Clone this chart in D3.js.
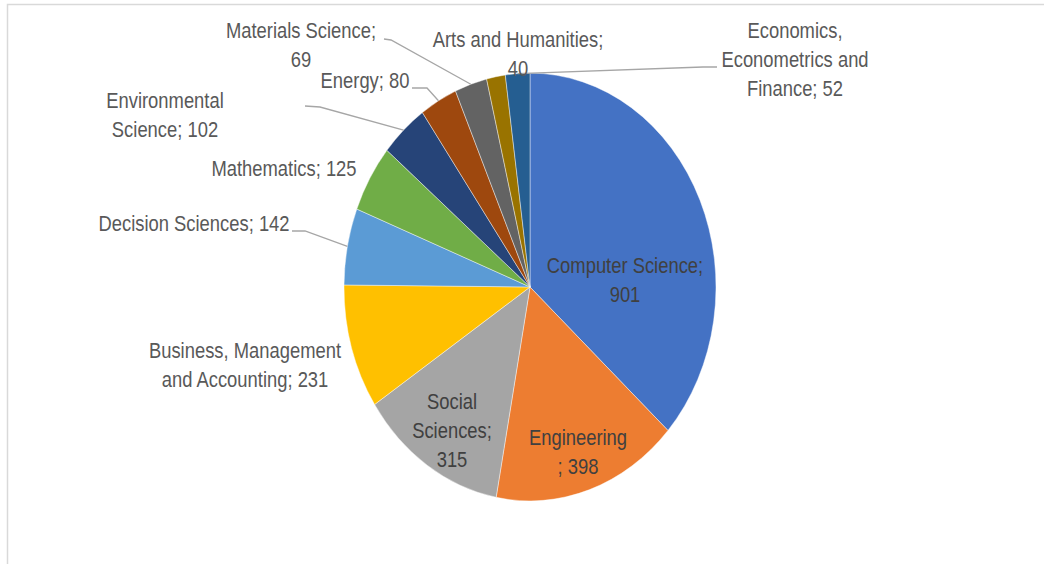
<!DOCTYPE html>
<html>
<head>
<meta charset="utf-8">
<script src="https://cdn.jsdelivr.net/npm/d3@7"></script>
<style>
  html, body { margin: 0; padding: 0; background: #fff; }
  svg { display: block; }
</style>
</head>
<body>
<svg id="chart" width="1044" height="564"></svg>
<script>
// Publications by subject area
const categories = [
  "Computer Science", "Engineering", "Social Sciences",
  "Business, Management and Accounting", "Decision Sciences", "Mathematics",
  "Environmental Science", "Energy", "Materials Science",
  "Arts and Humanities", "Economics, Econometrics and Finance"
];
const counts = [901, 398, 315, 231, 142, 125, 102, 80, 69, 40, 52];
const colors = [
  "#4472C4", "#ED7D31", "#A5A5A5", "#FFC000", "#5B9BD5", "#70AD47",
  "#264478", "#9E480E", "#636363", "#997300", "#255E91"
];

// Label text broken into lines, and where each block sits on the page
const labelLines = [
  ["Computer Science;", "901"],
  ["Engineering", "; 398"],
  ["Social", "Sciences;", "315"],
  ["Business, Management", "and Accounting; 231"],
  ["Decision Sciences; 142"],
  ["Mathematics; 125"],
  ["Environmental", "Science; 102"],
  ["Energy; 80"],
  ["Materials Science;", "69"],
  ["Arts and Humanities;", "40"],
  ["Economics,", "Econometrics and", "Finance; 52"]
];
const labelLayout = [
  { x: 625, y: 266, inside: true },
  { x: 578, y: 438, inside: true },
  { x: 452, y: 402, inside: true },
  { x: 245, y: 351 },
  { x: 194, y: 224, leader: [292, 231, 305, 231] },
  { x: 284, y: 169 },
  { x: 165, y: 101, leader: [305, 106, 320, 107] },
  { x: 365, y: 81,  leader: [412, 88, 427, 88] },
  { x: 301, y: 31,  leader: [384, 39, 391, 40] },
  { x: 518, y: 40 },
  { x: 795, y: 31,  leader: [717, 67, 703, 67] }
];

const cx = 530, cy = 287, r = 186, squash = 1.15, lineGap = 29;
const svg = d3.select("#chart");

// Chart area frame
svg.append("rect")
  .attr("x", 7.5).attr("y", 4.5)
  .attr("width", 1100).attr("height", 700)
  .attr("fill", "none").attr("stroke", "#d9d9d9").attr("stroke-width", 1.5);

const pie = d3.pie().sort(null).value(d => d.value);
const data = pie(categories.map((c, i) => ({ name: c, value: counts[i], i })));
const arc = d3.arc().innerRadius(0).outerRadius(r);

const pieG = svg.append("g")
  .attr("transform", `translate(${cx},${cy}) scale(1,${squash})`);

pieG.selectAll("path")
  .data(data)
  .join("path")
  .attr("d", arc)
  .attr("fill", d => colors[d.data.i])
  .attr("stroke", "#fff")
  .attr("stroke-width", 0.4);

// Leader lines from label to the rim of its slice
const rim = d => {
  const a = (d.startAngle + d.endAngle) / 2;
  return [cx + r * Math.sin(a), cy - r * squash * Math.cos(a)];
};
const leaders = data.filter(d => labelLayout[d.data.i].leader);
svg.selectAll("path.leader")
  .data(leaders)
  .join("path")
  .attr("class", "leader")
  .attr("fill", "none")
  .attr("stroke", "#a6a6a6")
  .attr("stroke-width", 1.3)
  .attr("d", d => {
    const l = labelLayout[d.data.i].leader;
    const p = rim(d);
    return d3.line()([[l[0], l[1]], [l[2], l[3]], p]);
  });

// Labels
const labels = svg.selectAll("g.label")
  .data(data)
  .join("g")
  .attr("class", "label")
  .attr("transform", d => {
    const L = labelLayout[d.data.i];
    return `translate(${L.x},${L.y}) scale(1,${squash})`;
  });

labels.selectAll("text")
  .data(d => labelLines[d.data.i].map((t, k) => ({ t, k, inside: labelLayout[d.data.i].inside })))
  .join("text")
  .attr("x", 0)
  .attr("y", d => d.k * lineGap / squash)
  .attr("dy", "0.35em")
  .attr("text-anchor", "middle")
  .attr("font-family", "'Liberation Sans Narrow', 'Liberation Sans', sans-serif")
  .attr("font-size", 18.4)
  .attr("fill", d => d.inside ? "#404040" : "#595959")
  .text(d => d.t);
</script>
</body>
</html>
